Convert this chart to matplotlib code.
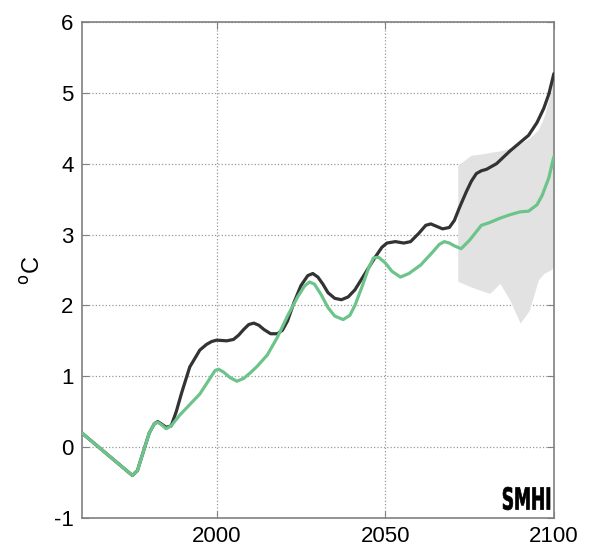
import matplotlib.pyplot as plt
import numpy as np
from matplotlib.textpath import TextPath
from matplotlib.patches import PathPatch
from matplotlib.font_manager import FontProperties
from matplotlib.transforms import Affine2D, IdentityTransform

## Data
years_hi = [1960, 1965, 1970, 1975, 1976.5, 1978, 1980, 1981.5, 1982.5, 1983.5, 1985, 1986.5,
            1988, 1989.5, 1992, 1995, 1997, 1998.5, 2000, 2003, 2005, 2006.5, 2008, 2009.5,
            2011, 2012.5, 2014, 2016, 2018, 2019.5, 2021, 2023, 2025, 2027, 2028.5, 2030,
            2031.5, 2033, 2035, 2037, 2039, 2041, 2044, 2047, 2049, 2050.5, 2053, 2055.5,
            2057.5, 2060, 2062, 2063.5, 2065, 2067, 2069, 2070.5, 2072, 2074, 2075.5,
            2077, 2078.5, 2080, 2083, 2087, 2090, 2092.5, 2095, 2097, 2098.5, 2100]
temp_hi = [0.2, 0.0, -0.2, -0.4, -0.33, -0.1, 0.2, 0.33, 0.36, 0.33, 0.28, 0.3,
           0.5, 0.75, 1.13, 1.37, 1.45, 1.49, 1.51, 1.5, 1.52, 1.58, 1.66, 1.73,
           1.75, 1.72, 1.66, 1.6, 1.6, 1.65, 1.78, 2.05, 2.28, 2.42, 2.45, 2.4,
           2.3, 2.18, 2.1, 2.08, 2.12, 2.22, 2.45, 2.68, 2.82, 2.88, 2.9, 2.88,
           2.9, 3.02, 3.13, 3.15, 3.12, 3.08, 3.1, 3.2, 3.38, 3.6, 3.75,
           3.86, 3.9, 3.92, 4.0, 4.18, 4.3, 4.4, 4.58, 4.78, 4.98, 5.27]

years_lo = [1960, 1965, 1970, 1975, 1976.5, 1978, 1980, 1981.5, 1982.5, 1983.5, 1985, 1986.5,
            1989, 1992, 1995, 1998, 1999.5, 2000.5, 2002, 2004, 2006, 2008, 2010, 2012,
            2015, 2018, 2021, 2024, 2026, 2027.5, 2029, 2031, 2033, 2035, 2037.5, 2039.5,
            2041, 2043, 2045, 2046.5, 2048, 2050, 2052, 2054.5, 2057, 2060.5, 2064,
            2066, 2067.5, 2069, 2070.5, 2072.5, 2075, 2078.5, 2081, 2084, 2087, 2090,
            2092.5, 2095, 2096.5, 2098.5, 2100]
temp_lo = [0.2, 0.0, -0.2, -0.4, -0.33, -0.1, 0.2, 0.33, 0.35, 0.32, 0.26, 0.3,
           0.45, 0.6, 0.75, 0.97, 1.08, 1.1, 1.06, 0.98, 0.93, 0.97, 1.05, 1.14,
           1.3, 1.55, 1.85, 2.12, 2.27, 2.33, 2.3, 2.15, 1.97, 1.85, 1.8, 1.86,
           2.0, 2.25, 2.52, 2.67, 2.68, 2.6, 2.48, 2.4, 2.45, 2.57, 2.75,
           2.86, 2.9, 2.88, 2.84, 2.8, 2.92, 3.13, 3.17, 3.23, 3.28, 3.32,
           3.33, 3.42, 3.55, 3.8, 4.1]

years_band = [2071.5, 2075.5, 2079, 2081, 2084, 2087, 2090, 2092.7, 2095.4, 2097, 2099, 2100]
band_top = [3.98, 4.12, 4.14, 4.16, 4.18, 4.22, 4.28, 4.36, 4.48, 4.65, 5.0, 5.38]
band_bot = [2.34, 2.26, 2.2, 2.17, 2.31, 2.07, 1.75, 1.93, 2.36, 2.45, 2.5, 2.55]

plt.rcParams['font.family'] = ['Liberation Sans', 'DejaVu Sans']
plt.rcParams['axes.unicode_minus'] = False

fig = plt.figure(figsize=(5.93, 5.49), dpi=100)
ax = fig.add_axes([0.138, 0.0565, 0.796, 0.9035])

ax.fill_between(years_band, band_bot, band_top, color='#e2e2e2', linewidth=0, zorder=1)
ax.plot(years_hi, temp_hi, color='#333333', linewidth=2.3, zorder=3,
        solid_joinstyle='round', solid_capstyle='round')
ax.plot(years_lo, temp_lo, color='#6cc48a', linewidth=2.3, zorder=4,
        solid_joinstyle='round', solid_capstyle='round')

ax.set_xlim(1960, 2100)
ax.set_ylim(-1, 6)
ax.set_xticks([2000, 2050, 2100])
ax.set_yticks(np.arange(-1, 7, 1))
ax.grid(True, linestyle=':', color='#999999', linewidth=0.9)
ax.set_axisbelow(True)
ax.tick_params(direction='in', length=5, color='#808080', labelsize=16,
               top=True, right=True, pad=6)
for s in ax.spines.values():
    s.set_color('#808080')
    s.set_linewidth(1.2)

ax.set_ylabel(r'$^{\mathrm{o}}$C', fontsize=17, labelpad=6)

## SMHI logo, squeezed into a narrow box (pixels)
tp = TextPath((0, 0), 'SMHI', size=10, prop=FontProperties(family='DejaVu Sans', weight='bold'))
ext = tp.get_extents()
lx0, lx1, ly0, ly1 = 503, 550, 39, 62
tr = Affine2D().translate(-ext.x0, -ext.y0).scale((lx1 - lx0) / ext.width,
                                                  (ly1 - ly0) / ext.height).translate(lx0, ly0)
fig.patches.append(PathPatch(tr.transform_path(tp), transform=IdentityTransform(),
                             facecolor='black', edgecolor='black', linewidth=0.5, zorder=10))

fig.savefig('out.png', dpi=100)
